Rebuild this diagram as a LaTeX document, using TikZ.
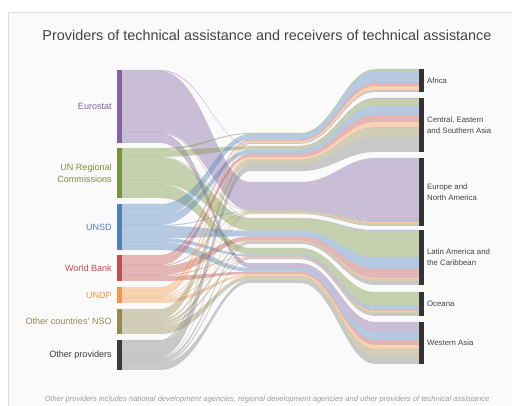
\documentclass[tikz,border=0pt]{standalone}
\usepackage{fontspec}
\setmainfont{Liberation Sans}
\usetikzlibrary{positioning, calc}

\definecolor{cEuro}{HTML}{8064A2}
\definecolor{cUnrc}{HTML}{77933C}
\definecolor{cUnsd}{HTML}{4F81BD}
\definecolor{cWb}{HTML}{C0504D}
\definecolor{cUndp}{HTML}{F79646}
\definecolor{cNso}{HTML}{948A54}
\definecolor{cOther}{HTML}{3A3A3A}
\definecolor{cOtherL}{HTML}{7F7F7F}
\definecolor{tgtgray}{HTML}{333333}
\definecolor{labelgray}{HTML}{444444}
\definecolor{notegray}{HTML}{A0A0A0}
\definecolor{panelbg}{HTML}{FAFAFA}
\definecolor{panelline}{HTML}{DDDDDD}

\begin{document}
\begin{tikzpicture}[
                        x=0.75pt, y=-0.75pt,
                        srcbar/.style={rectangle, inner sep=0pt, outer sep=0pt, minimum width=3.75pt, minimum height=#1*0.75pt, anchor=north east},
                        tgtbar/.style={rectangle, fill=tgtgray, inner sep=0pt, outer sep=0pt, minimum width=3.4pt, minimum height=#1*0.75pt, anchor=north west},
                        srclabel/.style={align=right, inner sep=0pt, font=\fontsize{6.8}{9}\selectfont},
                        tgtlabel/.style={align=left, inner sep=0pt, text=labelgray, font=\fontsize{5.85}{8.5}\selectfont},
                        flow/.style={fill=#1, fill opacity=0.4}
                        ]

                        \useasboundingbox (0,0) rectangle (512,406);
                        \fill[white] (0,0) rectangle (512,406);
                        \fill[panelbg] (8,12) rectangle (512,406);
                        \draw[panelline, line width=0.5pt] (8,406) |- (512,12);

                        \node[text=labelgray, font=\fontsize{10.8}{13}\selectfont] (title) at (267,35) {Providers of technical assistance and receivers of technical assistance};

                        % providers
                        \node[srcbar=73, fill=cEuro] (eurostat) at (122,70) {};
                        \node[srcbar=50, fill=cUnrc] (unrc) at (122,148) {};
                        \node[srcbar=46, fill=cUnsd] (unsd) at (122,204) {};
                        \node[srcbar=26, fill=cWb] (wb) at (122,255) {};
                        \node[srcbar=16, fill=cUndp] (undp) at (122,287) {};
                        \node[srcbar=25, fill=cNso] (nso) at (122,309) {};
                        \node[srcbar=30, fill=cOther] (other) at (122,340) {};

                        \node[srclabel, text=cEuro, left=3.75pt of eurostat] {Eurostat};
                        \node[srclabel, text=cUnrc, left=3.75pt of unrc] {UN Regional\\Commissions};
                        \node[srclabel, text=cUnsd, left=3.75pt of unsd] {UNSD};
                        \node[srclabel, text=cWb, left=3.75pt of wb] {World Bank};
                        \node[srclabel, text=cUndp, left=3.75pt of undp] {UNDP};
                        \node[srclabel, text=cNso, left=3.75pt of nso] {Other countries' NSO};
                        \node[srclabel, text=cOther, left=3.75pt of other] {Other providers};

                        % receivers
                        \node[tgtbar=23] (africa) at (419,69) {};
                        \node[tgtbar=54] (cesa) at (419,98) {};
                        \node[tgtbar=68] (europe) at (419,158) {};
                        \node[tgtbar=55] (latam) at (419,230) {};
                        \node[tgtbar=24] (oceana) at (419,292) {};
                        \node[tgtbar=42] (wasia) at (419,322) {};

                        \node[tgtlabel, right=2.5pt of africa] {Africa};
                        \node[tgtlabel, right=2.5pt of cesa] {Central, Eastern\\and Southern Asia};
                        \node[tgtlabel, right=2.5pt of europe] {Europe and\\North America};
                        \node[tgtlabel, right=2.5pt of latam] {Latin America and\\the Caribbean};
                        \node[tgtlabel, right=2.5pt of oceana] {Oceana};
                        \node[tgtlabel, right=2.5pt of wasia] {Western Asia};

                        % bundles in the middle
                        \coordinate (m-africa) at (250,133);
                        \coordinate (m-cesa) at (250,145.8);
                        \coordinate (m-europe) at (250,182);
                        \coordinate (m-latam) at (250,218);
                        \coordinate (m-oceana) at (250,247.9);
                        \coordinate (m-wasia) at (250,263.2);
                        \coordinate (la) at (160,0);
                        \coordinate (cla) at (203,0);
                        \coordinate (clb) at (217,0);
                        \coordinate (cra) at (333,0);
                        \coordinate (crb) at (345,0);
                        \coordinate (rb) at (375,0);

                        \foreach \j in {0,...,5}{
                          \expandafter\xdef\csname toff\j\endcsname{0}
                          \expandafter\xdef\csname moff\j\endcsname{0}
                        }

                        \foreach \src/\col/\vals in {
                            eurostat/cEuro/{0,1,61,1,0,10},
                            unrc/cUnrc/{2,7,1,26,14,0},
                            unsd/cUnsd/{12,9,1,12,4,8},
                            wb/cWb/{3,7,1,9,1,5},
                            undp/cUndp/{4,5,1,1,1,4},
                            nso/cNso/{0,10,2,3,2,8},
                            other/cOtherL/{2,15,1,3,2,7}}{
                          \xdef\sOff{0}
                          \foreach \v [count=\j from 0] in \vals {
                            \ifnum\v>0
                              \edef\tgt{\ifcase\j africa\or cesa\or europe\or latam\or oceana\or wasia\fi}
                              \edef\tOff{\csname toff\j\endcsname}
                              \edef\mOff{\csname moff\j\endcsname}
                              \coordinate (s1) at ($(\src.north east)+(0,\sOff)$);
                              \coordinate (s2) at ($(s1)+(0,\v)$);
                              \coordinate (m1) at ($(m-\tgt)+(0,\mOff)$);
                              \coordinate (m2) at ($(m1)+(0,0.47*\v)$);
                              \coordinate (n1) at ($(m1)+(50,0)$);
                              \coordinate (n2) at ($(m2)+(50,0)$);
                              \coordinate (t1) at ($(\tgt.north west)+(0,\tOff)$);
                              \coordinate (t2) at ($(t1)+(0,\v)$);
                              \fill[flow=\col] (s1) -- (s1 -| la) .. controls (s1 -| cla) and (m1 -| clb) .. (m1) -- (n1)
                                .. controls (n1 -| cra) and (t1 -| crb) .. (t1 -| rb) -- (t1) -- (t2) -- (t2 -| rb)
                                .. controls (t2 -| crb) and (n2 -| cra) .. (n2) -- (m2)
                                .. controls (m2 -| clb) and (s2 -| cla) .. (s2 -| la) -- (s2) -- cycle;
                              \pgfmathsetmacro\tmp{\tOff+\v}
                              \expandafter\xdef\csname toff\j\endcsname{\tmp}
                              \pgfmathsetmacro\tmp{\mOff+0.47*\v}
                              \expandafter\xdef\csname moff\j\endcsname{\tmp}
                            \fi
                            \pgfmathsetmacro\tmp{\sOff+\v}
                            \xdef\sOff{\tmp}
                          }
                        }

                        \node[text=notegray, font=\fontsize{5.7}{6.5}\selectfont\itshape] (note) at (267,400) {Other providers includes national development agencies, regional development agencies and other providers of technical assistance};
                      \end{tikzpicture}
\end{document}
